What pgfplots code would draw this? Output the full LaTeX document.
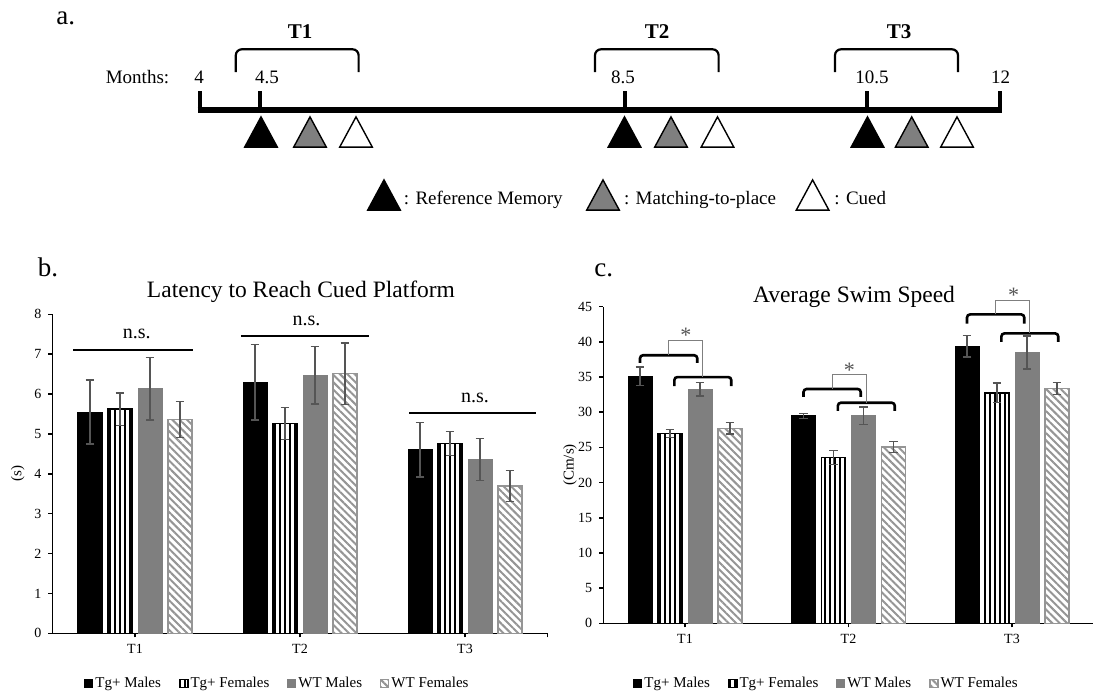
\documentclass[border=0pt]{standalone}
\usepackage{fontspec}
\setmainfont{Liberation Serif}
\usepackage{pgfplots}
\pgfplotsset{compat=1.18}
\usetikzlibrary{patterns.meta}
\definecolor{wtgray}{HTML}{7F7F7F}
\definecolor{hatchgray}{HTML}{959595}
\definecolor{errc}{HTML}{555555}
\pgfplotsset{
  eb/.style={
    /pgfplots/error bars/y dir=both,
    /pgfplots/error bars/y explicit,
    /pgfplots/error bars/error bar style={line width=0.65pt,color=errc},
    /pgfplots/error bars/error mark options={rotate=90,line width=0.65pt,color=errc,mark size=2.2pt},
  },
  s1/.style={fill=black, draw=black, line width=0.5pt},
  s2/.style={fill=white, draw=black, line width=0.8pt, postaction={pattern={Lines[angle=90,distance=2.5pt,line width=0.85pt]}, pattern color=black}},
  s3/.style={fill=wtgray, draw=wtgray, line width=0.5pt},
  s4/.style={fill=white, draw=hatchgray, line width=0.7pt, postaction={pattern={Lines[angle=-45,distance=2.6pt,line width=1pt]}, pattern color=hatchgray}},
  sqlegend/.style={legend image code/.code={\draw[##1] (0pt,-2pt) rectangle (4pt,2pt);}},
  barax/.style={
    scale only axis, anchor=south west, clip=false,
    xmin=-0.5, xmax=2.5, ymin=0,
    ybar=3pt, bar width=12pt,
    axis lines*=left, axis line style={line width=0.75pt,-},
    xtick={0,1,2}, xticklabels={T1,T2,T3},
    tick align=outside, major tick length=2pt,
    tick style={line width=0.75pt, black},
    ticklabel style={font=\fontsize{7}{8}\selectfont},
    /pgf/number format/assume math mode=true,
    legend columns=4,
    every axis plot post/.append style={sqlegend},
    legend style={draw=none, fill=none, anchor=west, inner sep=0pt,
      font=\fontsize{7.5}{9}\selectfont, nodes={inner sep=1pt},
      /tikz/every even column/.append style={column sep=8pt}},
    label style={font=\fontsize{7.5}{9}\selectfont},
  },
}
\begin{document}
\begin{tikzpicture}
\useasboundingbox (0pt,0pt) rectangle (546.5pt,-348pt);
% ---------- overlay axis in pixel coordinates (panel a and texts)
\begin{axis}[at={(0pt,0pt)}, anchor=north west, scale only axis,
  width=546.5pt, height=348pt, xmin=0, xmax=1093, ymin=0, ymax=696,
  y dir=reverse, hide axis, clip=false]
\addplot[only marks, mark=triangle*, mark size=9.4pt,
  mark options={fill=black, draw=black, line width=0.7pt, yscale=1.07}]
  coordinates {(261,137) (624.5,137) (867.5,137) (384,200)};
\addplot[only marks, mark=triangle*, mark size=9.4pt,
  mark options={fill=wtgray, draw=black, line width=0.7pt, yscale=1.07}]
  coordinates {(310,137) (671,137) (911.7,137) (603,200)};
\addplot[only marks, mark=triangle*, mark size=9.4pt,
  mark options={fill=white, draw=black, line width=0.7pt, yscale=1.07}]
  coordinates {(356,137) (717.5,137) (957,137) (812.6,200)};
% timeline
\draw[line width=2.6pt] (197.5,110) -- (1002,110);
\draw[line width=2pt] (199.5,91) -- (199.5,111);
\draw[line width=2pt] (260,91) -- (260,110);
\draw[line width=2pt] (624.5,91) -- (624.5,110);
\draw[line width=2pt] (867,91) -- (867,110);
\draw[line width=2pt] (1000,91) -- (1000,111);
% brackets
\draw[line width=1.1pt, rounded corners=3pt] (235.8,72) -- (235.8,49.3) -- (358.6,49.3) -- (358.6,72);
\draw[line width=1.1pt, rounded corners=3pt] (595,72) -- (595,49.3) -- (718.6,49.3) -- (718.6,72);
\draw[line width=1.1pt, rounded corners=3pt] (835,72) -- (835,49.3) -- (958,49.3) -- (958,72);
\begin{scope}[every node/.style={inner sep=0pt}]
\node[anchor=base, font=\fontsize{10.5}{12}\selectfont\bfseries] at (300,38.5) {T1};
\node[anchor=base, font=\fontsize{10.5}{12}\selectfont\bfseries] at (657,38.5) {T2};
\node[anchor=base, font=\fontsize{10.5}{12}\selectfont\bfseries] at (899,38.5) {T3};
\node[anchor=base, font=\fontsize{9.5}{11}\selectfont] at (137.5,83.5) {Months:};
\node[anchor=base, font=\fontsize{9.5}{11}\selectfont] at (199,83.5) {4};
\node[anchor=base, font=\fontsize{9.5}{11}\selectfont] at (267,83.5) {4.5};
\node[anchor=base, font=\fontsize{9.5}{11}\selectfont] at (623,83.5) {8.5};
\node[anchor=base, font=\fontsize{9.5}{11}\selectfont] at (872,83.5) {10.5};
\node[anchor=base, font=\fontsize{9.5}{11}\selectfont] at (1000.5,83.5) {12};
\node[anchor=base west, font=\fontsize{9.5}{11}\selectfont] at (403.5,204) {: Reference Memory};
\node[anchor=base west, font=\fontsize{9.5}{11}\selectfont] at (623.7,204) {: Matching-to-place};
\node[anchor=base west, font=\fontsize{9.5}{11}\selectfont] at (834,204) {: Cued};
\node[anchor=base west, font=\fontsize{13.5}{15}\selectfont] at (56,24.5) {a.};
\node[anchor=base west, font=\fontsize{13.5}{15}\selectfont] at (37.5,276.7) {b.};
\node[anchor=base west, font=\fontsize{13.5}{15}\selectfont] at (594,276.7) {c.};
\node[anchor=base, font=\fontsize{11.75}{13}\selectfont] at (301,297.5) {Latency to Reach Cued Platform};
\node[anchor=base, font=\fontsize{11.75}{13}\selectfont] at (854,302) {Average Swim Speed};
\end{scope}
\end{axis}
% ---------- panel b
\begin{axis}[barax, at={(26.25pt,-316.65pt)}, width=247.5pt, height=159.5pt,
  ymax=8, ytick={0,1,...,8},
  extra x ticks={2.5}, extra x tick labels={},
  ylabel={(s)}, ylabel style={at={(axis description cs:-0.0701,0.5)}, anchor=center},
  legend style={at={(0.0636,-0.157)}}]
\addplot[s1, eb] coordinates {(0,5.55) +- (0,0.80) (1,6.30) +- (0,0.95) (2,4.60) +- (0,0.68)};
\addplot[s2, eb] coordinates {(0,5.62) +- (0,0.41) (1,5.26) +- (0,0.40) (2,4.76) +- (0,0.30)};
\addplot[s3, eb] coordinates {(0,6.13) +- (0,0.78) (1,6.47) +- (0,0.72) (2,4.36) +- (0,0.53)};
\addplot[s4, eb] coordinates {(0,5.36) +- (0,0.45) (1,6.51) +- (0,0.77) (2,3.69) +- (0,0.39)};
\legend{Tg+ Males, Tg+ Females, WT Males, WT Females}
\draw[line width=1pt] (axis cs:-0.375,7.10) -- (axis cs:0.351,7.10);
\draw[line width=1pt] (axis cs:0.642,7.45) -- (axis cs:1.418,7.45);
\draw[line width=1pt] (axis cs:1.661,5.53) -- (axis cs:2.428,5.53);
\node[anchor=base, inner sep=0pt, font=\fontsize{10}{12}\selectfont] at (axis cs:0.01,7.39) {n.s.};
\node[anchor=base, inner sep=0pt, font=\fontsize{10}{12}\selectfont] at (axis cs:1.04,7.71) {n.s.};
\node[anchor=base, inner sep=0pt, font=\fontsize{10}{12}\selectfont] at (axis cs:2.06,5.79) {n.s.};
\end{axis}
% ---------- panel c
\begin{axis}[barax, at={(301.625pt,-311.65pt)}, width=245.25pt, height=158.3pt,
  ymax=45, ytick={0,5,...,45},
  ylabel={(Cm/s)}, ylabel style={at={(axis description cs:-0.0678,0.5)}, anchor=center},
  legend style={at={(0.0607,-0.1895)}}]
\addplot[s1, eb] coordinates {(0,35.15) +- (0,1.3) (1,29.5) +- (0,0.35) (2,39.4) +- (0,1.55)};
\addplot[s2, eb] coordinates {(0,26.95) +- (0,0.55) (1,23.54) +- (0,1.0) (2,32.77) +- (0,1.4)};
\addplot[s3, eb] coordinates {(0,33.26) +- (0,0.95) (1,29.5) +- (0,1.25) (2,38.5) +- (0,2.35)};
\addplot[s4, eb] coordinates {(0,27.7) +- (0,0.8) (1,25.06) +- (0,0.8) (2,33.4) +- (0,0.85)};
\legend{Tg+ Males, Tg+ Females, WT Males, WT Females}
% T1
\draw[line width=1.3pt, rounded corners=1.5pt] (axis cs:-0.275,37.0) -- (axis cs:-0.275,38.1) -- (axis cs:0.075,38.1) -- (axis cs:0.075,37.0);
\draw[line width=1.3pt, rounded corners=1.5pt] (axis cs:-0.065,33.7) -- (axis cs:-0.065,35.0) -- (axis cs:0.283,35.0) -- (axis cs:0.283,33.7);
\draw[line width=0.5pt, wtgray] (axis cs:-0.1,38.1) -- (axis cs:-0.1,40.2) -- (axis cs:0.11,40.2) -- (axis cs:0.11,35.0);
\node[inner sep=0pt, font=\fontsize{11}{12}\selectfont, text=errc] at (axis cs:0.005,40.9) {*};
% T2
\draw[line width=1.3pt, rounded corners=1.5pt] (axis cs:0.725,32.2) -- (axis cs:0.725,33.3) -- (axis cs:1.075,33.3) -- (axis cs:1.075,32.2);
\draw[line width=1.3pt, rounded corners=1.5pt] (axis cs:0.935,30.2) -- (axis cs:0.935,31.35) -- (axis cs:1.283,31.35) -- (axis cs:1.283,30.2);
\draw[line width=0.5pt, wtgray] (axis cs:0.9,33.3) -- (axis cs:0.9,35.3) -- (axis cs:1.11,35.3) -- (axis cs:1.11,31.35);
\node[inner sep=0pt, font=\fontsize{11}{12}\selectfont, text=errc] at (axis cs:1.005,35.9) {*};
% T3
\draw[line width=1.3pt, rounded corners=1.5pt] (axis cs:1.725,42.6) -- (axis cs:1.725,43.9) -- (axis cs:2.075,43.9) -- (axis cs:2.075,42.6);
\draw[line width=1.3pt, rounded corners=1.5pt] (axis cs:1.935,40.0) -- (axis cs:1.935,41.2) -- (axis cs:2.283,41.2) -- (axis cs:2.283,40.0);
\draw[line width=0.5pt, wtgray] (axis cs:1.9,43.9) -- (axis cs:1.9,45.85) -- (axis cs:2.11,45.85) -- (axis cs:2.11,41.2);
\node[inner sep=0pt, font=\fontsize{11}{12}\selectfont, text=errc] at (axis cs:2.01,46.6) {*};
\end{axis}
\end{tikzpicture}
\end{document}
